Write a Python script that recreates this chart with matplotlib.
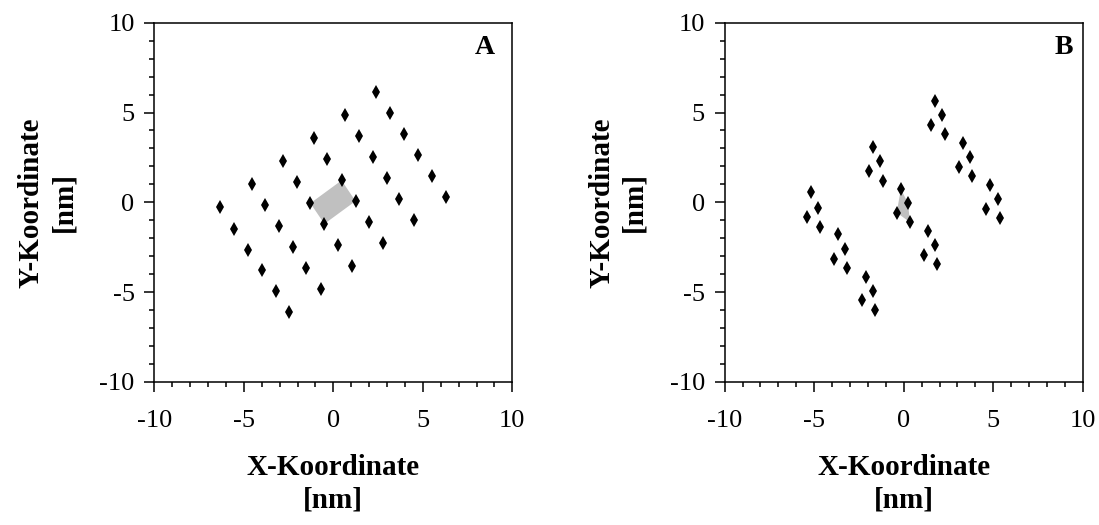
import matplotlib
matplotlib.use("Agg")
import matplotlib.pyplot as plt
from matplotlib.ticker import MultipleLocator

plt.rcParams["font.family"] = ["Liberation Serif", "DejaVu Serif"]
plt.rcParams["axes.unicode_minus"] = False

# lattice A: 6 x 6 grid of positions [nm]
xa = [2.37, 0.65, 3.17, -1.09, 1.43, 3.95, -2.83, -0.33, 2.20, 4.72,
      -4.57, -2.05, 0.46, 2.98, 5.50, -6.31, -3.79, -1.28, 1.24, 3.68,
      6.27, -5.53, -3.02, -0.50, 2.02, 4.53, -4.76, -2.26, 0.26, 2.75,
      -4.00, -1.50, 1.03, -3.23, -0.71, -2.48]
ya = [6.13, 4.85, 4.98, 3.58, 3.71, 3.82, 2.29, 2.40, 2.51, 2.64,
      1.00, 1.11, 1.22, 1.35, 1.45, -0.27, -0.16, -0.05, 0.07, 0.19,
      0.29, -1.47, -1.34, -1.20, -1.09, -0.98, -2.63, -2.50, -2.40, -2.29,
      -3.76, -3.65, -3.56, -4.96, -4.83, -6.12]
cell_a = [12, 18, 23, 17]

# lattice B: three strands of clusters [nm]
xb = [-5.20, -4.79, -5.41, -4.67, -3.67, -3.26, -3.88, -3.14,
      -2.12, -1.71, -2.33, -1.60,
      -1.73, -1.31, -1.94, -1.18, -0.16, 0.24, -0.39, 0.35,
      1.35, 1.75, 1.12, 1.88,
      1.77, 2.16, 1.54, 2.30, 3.30, 3.71, 3.07, 3.82,
      4.82, 5.26, 4.62, 5.36]
yb = [0.55, -0.29, -0.81, -1.35, -1.78, -2.60, -3.13, -3.67,
      -4.14, -4.96, -5.46, -6.02,
      3.09, 2.29, 1.75, 1.20, 0.74, -0.05, -0.57, -1.11,
      -1.60, -2.40, -2.92, -3.46,
      5.65, 4.85, 4.32, 3.78, 3.33, 2.51, 1.99, 1.45,
      0.98, 0.18, -0.35, -0.89]
cell_b = [16, 17, 19, 18]

fig = plt.figure(figsize=(10.99, 5.25), dpi=100)
ax_a = fig.add_axes([0.1404, 0.2724, 0.3258, 0.6844])
ax_b = fig.add_axes([0.6594, 0.2724, 0.3258, 0.6844])


def draw_panel(ax, xs, ys, cell, tag, tag_x):
    ax.fill([xs[i] for i in cell], [ys[i] for i in cell],
            color="#c0c0c0", lw=0, zorder=1)
    ax.plot(xs, ys, "d", color="black", ms=7.5, mew=0, zorder=2)
    ax.set_xlim(-10, 10)
    ax.set_ylim(-10, 10)
    ax.xaxis.set_major_locator(MultipleLocator(5))
    ax.yaxis.set_major_locator(MultipleLocator(5))
    ax.xaxis.set_minor_locator(MultipleLocator(1))
    ax.yaxis.set_minor_locator(MultipleLocator(1))
    ax.tick_params(which="both", direction="out", top=False, right=False,
                   width=1.1, labelsize=19)
    ax.tick_params(which="major", length=7.2)
    ax.tick_params(which="minor", length=3.8)
    ax.tick_params(axis="x", pad=13)
    ax.tick_params(axis="y", pad=7)
    for s in ax.spines.values():
        s.set_linewidth(1.1)
    ax.set_xlabel("X-Koordinate\n[nm]", fontsize=21, fontweight="bold",
                  linespacing=1.25)
    ax.set_ylabel("Y-Koordinate\n[nm]", fontsize=21, fontweight="bold",
                  linespacing=1.25)
    ax.xaxis.set_label_coords(0.5, -0.2)
    ax.yaxis.set_label_coords(-0.216, 0.5)
    ax.text(tag_x, 0.93, tag, transform=ax.transAxes, fontsize=20,
            fontweight="bold", ha="center", va="center")


draw_panel(ax_a, xa, ya, cell_a, "A", 0.924)
draw_panel(ax_b, xb, yb, cell_b, "B", 0.948)

fig.savefig("out.png", dpi=100)
